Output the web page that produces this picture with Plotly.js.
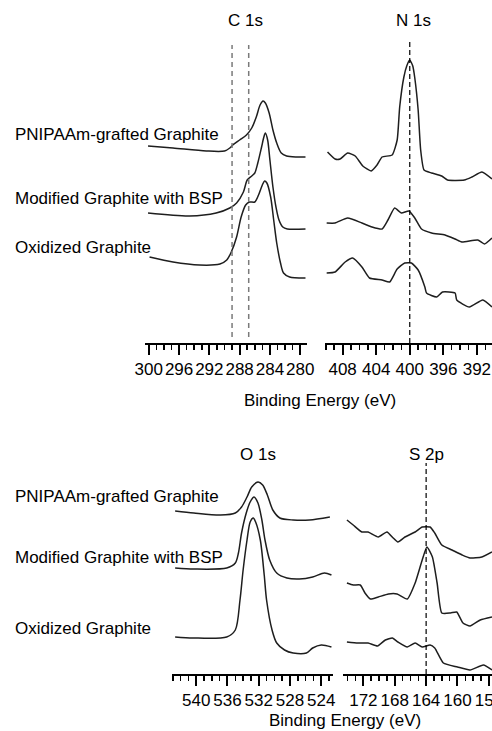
<!DOCTYPE html>
<html>
<head>
<meta charset="utf-8">
<script src="https://cdn.plot.ly/plotly-3.0.1.min.js"></script>
<style>
  html, body { margin: 0; padding: 0; background: #fff; }
  #chart { width: 492px; height: 731px; }
</style>
</head>
<body>
<div id="chart"></div>
<script>
// ---- Sample labels ----
const sampleLabels = ["PNIPAAm-grafted Graphite", "Modified Graphite with BSP", "Oxidized Graphite"];
const regionTitles = ["C 1s", "N 1s", "O 1s", "S 2p"];
const axisTitle = "Binding Energy (eV)";

// ---- C 1s (binding energy eV, intensity a.u., spectra stacked) ----
const c1sPnipaamE = [300.1, 296.8, 292.4, 290.0, 289.3, 288.9, 288.0, 287.1, 286.4, 285.8, 285.3, 284.9, 284.6, 284.1, 283.6, 283.1, 282.5, 281.8, 280.5, 279.3];
const c1sPnipaamI = [197, 195, 192, 192, 195, 198, 203, 208, 215, 226, 238, 242, 240, 230, 213, 200, 190, 187, 186, 186];
const c1sBspE = [300.1, 294.6, 291.1, 289.3, 288.4, 287.5, 287.0, 286.4, 286.0, 285.6, 285.1, 284.8, 284.6, 284.3, 284.0, 283.6, 283.2, 282.8, 282.3, 281.7, 279.3];
const c1sBspI = [130, 127, 130, 135, 140, 151, 163, 167, 170, 180, 196, 206, 210, 203, 183, 156, 136, 123, 116, 114, 114];
const c1sOxE = [299.9, 296.8, 293.3, 290.6, 289.7, 289.1, 288.4, 287.8, 287.2, 286.7, 286.0, 285.5, 285.0, 284.7, 284.4, 283.9, 283.5, 283.1, 282.6, 282.2, 281.4, 279.3];
const c1sOxI = [86, 81, 78, 79, 83, 91, 106, 126, 138, 141, 141, 148, 158, 162, 160, 146, 123, 100, 80, 70, 66, 65];
const c1sRefLines = [289.0, 286.8];

// ---- N 1s ----
const n1sPnipaamE = [409.8, 408.9, 408.3, 407.4, 406.5, 405.6, 404.6, 403.9, 403.3, 402.1, 401.5, 401.2, 400.7, 400.36, 400.0, 399.64, 399.4, 399.0, 398.7, 398.3, 397.4, 396.2, 395.5, 393.5, 392.6, 391.4, 390.2];
const n1sPnipaamI = [191, 184, 184, 190, 187, 177, 172, 178, 186, 188, 203, 236, 266, 277, 283, 277, 265, 233, 193, 173, 170, 167, 163, 163, 166, 171, 164];
const n1sBspE = [409.9, 408.9, 407.4, 405.7, 404.5, 403.3, 402.6, 401.8, 401.0, 400.1, 399.4, 398.6, 397.4, 395.8, 394.6, 393.8, 391.9, 391.1, 390.2];
const n1sBspI = [120, 120, 125, 120, 116, 114, 123, 135, 130, 132, 125, 114, 110, 108, 104, 101, 103, 99, 105];
const n1sOxE = [409.9, 408.9, 407.7, 406.8, 405.7, 404.8, 403.3, 402.4, 401.5, 400.6, 399.8, 399.0, 398.2, 398.0, 396.8, 396.1, 394.6, 394.4, 392.9, 391.3, 390.2];
const n1sOxI = [70, 71, 81, 85, 76, 65, 63, 61, 74, 80, 80, 73, 56, 50, 46, 51, 50, 43, 36, 43, 36];
const n1sRefLine = 400.0;

// ---- O 1s ----
const o1sPnipaamE = [542.7, 540.3, 536.9, 535.0, 534.2, 533.5, 532.9, 532.1, 531.5, 530.9, 530.2, 529.3, 527.6, 525.5, 522.9];
const o1sPnipaamI = [163, 161, 159, 161, 167, 177, 187, 192, 189, 179, 164, 156, 154, 154, 157];
const o1sBspE = [542.7, 540.3, 536.1, 535.0, 534.6, 534.2, 533.6, 533.1, 532.6, 532.1, 531.6, 531.2, 530.6, 529.7, 528.4, 526.8, 525.1, 523.6, 522.7];
const o1sBspI = [106, 105, 106, 111, 121, 141, 161, 172, 177, 171, 154, 134, 114, 101, 96, 95, 97, 101, 99];
const o1sOxE = [542.7, 540.4, 536.1, 535.0, 534.4, 534.0, 533.5, 533.1, 532.7, 532.4, 531.8, 531.3, 531.0, 530.3, 529.7, 528.7, 527.6, 525.9, 525.1, 524.0, 522.7];
const o1sOxI = [37, 36, 37, 44, 74, 104, 134, 152, 156, 152, 134, 99, 74, 44, 31, 24, 21, 21, 26, 29, 27];

// ---- S 2p ----
const s2pPnipaamE = [174.1, 173.3, 172.2, 171.4, 170.1, 169.0, 168.2, 167.6, 166.7, 165.4, 164.5, 163.5, 162.9, 162.0, 160.7, 159.4, 158.4, 156.9, 155.6];
const s2pPnipaamI = [154, 149, 142, 142, 137, 142, 136, 132, 137, 142, 147, 147, 141, 129, 124, 119, 116, 117, 122];
const s2pBspE = [174.1, 173.3, 172.4, 171.8, 171.1, 170.1, 168.8, 167.7, 166.4, 165.4, 164.5, 163.9, 163.2, 162.6, 162.0, 160.9, 160.1, 159.3, 158.4, 157.1, 155.6];
const s2pBspI = [91, 89, 89, 81, 75, 77, 80, 80, 75, 91, 114, 127, 117, 91, 61, 61, 62, 51, 48, 54, 57];
const s2pOxE = [174.1, 172.7, 171.4, 170.2, 169.2, 168.3, 167.6, 166.4, 165.4, 164.5, 163.5, 162.9, 161.8, 160.0, 158.4, 156.7, 155.6];
const s2pOxI = [32, 31, 31, 28, 34, 36, 32, 27, 31, 27, 29, 26, 11, 7, 4, 9, 4];
const s2pRefLine = 164.0;

// ---- Layout geometry (pixels in 492 x 731 page) ----
const W = 492, H = 731;
const topAxisY = 343, topPlotTop = 30;
const botAxisY = 674, botPlotTop = 450;
const px = v => v / W;
const py = v => 1 - v / H;

const FONT = "Arial, 'Liberation Sans', sans-serif";
const FS = 17;
const lineColor = "#1e1e1e";

function spec(x, y, xa, ya, smooth) {
  return {
    type: "scatter", mode: "lines", x: x, y: y, xaxis: xa, yaxis: ya,
    line: { color: lineColor, width: 1.5, shape: "spline", smoothing: smooth },
    hoverinfo: "skip", showlegend: false
  };
}

const traces = [
  spec(c1sPnipaamE, c1sPnipaamI, "x", "y", 0.8),
  spec(c1sBspE, c1sBspI, "x", "y", 0.8),
  spec(c1sOxE, c1sOxI, "x", "y", 0.8),
  spec(n1sPnipaamE, n1sPnipaamI, "x2", "y2", 0.5),
  spec(n1sBspE, n1sBspI, "x2", "y2", 0.5),
  spec(n1sOxE, n1sOxI, "x2", "y2", 0.5),
  spec(o1sPnipaamE, o1sPnipaamI, "x3", "y3", 0.8),
  spec(o1sBspE, o1sBspI, "x3", "y3", 0.8),
  spec(o1sOxE, o1sOxI, "x3", "y3", 0.8),
  spec(s2pPnipaamE, s2pPnipaamI, "x4", "y4", 0.5),
  spec(s2pBspE, s2pBspI, "x4", "y4", 0.5),
  spec(s2pOxE, s2pOxI, "x4", "y4", 0.5)
];

function xAxis(domain, range, anchor) {
  return {
    domain: domain, range: range, anchor: anchor,
    showgrid: false, zeroline: false,
    showline: true, linecolor: "#000", linewidth: 2,
    ticks: "outside", ticklen: 10, tickwidth: 2, tickcolor: "#000",
    tick0: 0, dtick: 4, tickangle: 0,
    minor: { dtick: 1, ticks: "outside", ticklen: 5, tickwidth: 1.5, tickcolor: "#000", showgrid: false },
    tickfont: { family: FONT, size: FS, color: "#000" },
    ticklabeloverflow: "allow",
    fixedrange: true
  };
}
function yAxis(domain, range) {
  return { domain: domain, range: range, visible: false, fixedrange: true };
}

const topDom = [py(topAxisY), py(topPlotTop)];
const botDom = [py(botAxisY), py(botPlotTop)];

const layout = {
  width: W, height: H,
  margin: { l: 0, r: 0, t: 0, b: 0 },
  paper_bgcolor: "#fff", plot_bgcolor: "rgba(0,0,0,0)",
  showlegend: false,
  font: { family: FONT, size: FS, color: "#000" },
  xaxis: xAxis([px(145), px(307)], [300.5, 279.1], "y"),
  xaxis2: xAxis([px(325), 1], [410.1, 390.2], "y2"),
  xaxis3: xAxis([px(172), px(333)], [543.1, 522.5], "y3"),
  xaxis4: xAxis([px(343), 1], [174.6, 155.6], "y4"),
  yaxis: yAxis(topDom, [0, topAxisY - topPlotTop]),
  yaxis2: yAxis(topDom, [0, topAxisY - topPlotTop]),
  yaxis3: yAxis(botDom, [0, botAxisY - botPlotTop]),
  yaxis4: yAxis(botDom, [0, botAxisY - botPlotTop]),
  shapes: [
    { type: "line", xref: "x", yref: "y", x0: c1sRefLines[0], x1: c1sRefLines[0], y0: 6, y1: 298, line: { color: "#7a7a7a", width: 1.5, dash: "5px,4px" } },
    { type: "line", xref: "x", yref: "y", x0: c1sRefLines[1], x1: c1sRefLines[1], y0: 6, y1: 298, line: { color: "#7a7a7a", width: 1.5, dash: "5px,4px" } },
    { type: "line", xref: "x2", yref: "y2", x0: n1sRefLine, x1: n1sRefLine, y0: 0, y1: 304, line: { color: "#000", width: 1.2, dash: "5px,3px" } },
    { type: "line", xref: "x4", yref: "y4", x0: s2pRefLine, x1: s2pRefLine, y0: 0, y1: 211, line: { color: "#000", width: 1.2, dash: "5px,3px" } }
  ],
  annotations: [
    { text: regionTitles[0], x: px(245), y: py(21) },
    { text: regionTitles[1], x: px(413), y: py(21) },
    { text: regionTitles[2], x: px(258), y: py(455) },
    { text: regionTitles[3], x: px(426), y: py(455) },
    { text: sampleLabels[0], x: px(13), y: py(134), xanchor: "left" },
    { text: sampleLabels[1], x: px(13), y: py(198), xanchor: "left" },
    { text: sampleLabels[2], x: px(13), y: py(247), xanchor: "left" },
    { text: sampleLabels[0], x: px(13), y: py(496), xanchor: "left" },
    { text: sampleLabels[1], x: px(13), y: py(557), xanchor: "left" },
    { text: sampleLabels[2], x: px(13), y: py(628), xanchor: "left" },
    { text: axisTitle, x: px(320), y: py(400) },
    { text: axisTitle, x: px(345), y: py(720) }
  ].map(a => Object.assign({ xref: "paper", yref: "paper", showarrow: false, xanchor: "center", yanchor: "middle", font: { family: FONT, size: FS, color: "#000" } }, a))
};

Plotly.newPlot("chart", traces, layout, { staticPlot: true, displayModeBar: false });
</script>
</body>
</html>
